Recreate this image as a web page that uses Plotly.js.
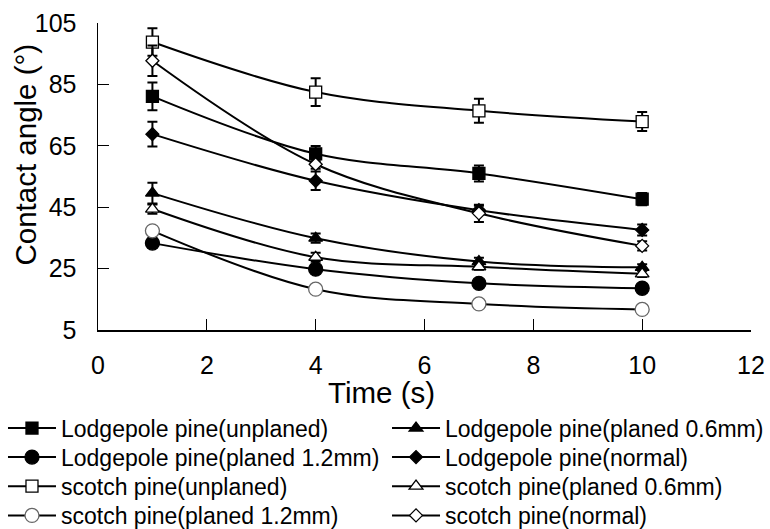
<!DOCTYPE html>
<html>
<head>
<meta charset="utf-8">
<script src="https://cdn.plot.ly/plotly-3.0.1.min.js"></script>
<style>
html,body{margin:0;padding:0;background:#fff;}
#chart{width:770px;height:529px;}
</style>
</head>
<body>
<div id="chart"></div>
<script>
// Data
const time = [1, 4, 7, 10];

const seriesNames = [
  "Lodgepole pine(unplaned)",
  "Lodgepole pine(planed 0.6mm)",
  "Lodgepole pine(planed 1.2mm)",
  "Lodgepole pine(normal)",
  "scotch pine(unplaned)",
  "scotch pine(planed 0.6mm)",
  "scotch pine(planed 1.2mm)",
  "scotch pine(normal)"
];

const lpUnplaned   = [81.1, 62.4, 56.0, 47.6];
const lpPlaned06   = [49.6, 34.9, 27.3, 25.4];
const lpPlaned12   = [33.3, 24.8, 20.2, 18.6];
const lpNormal     = [68.8, 53.6, 44.0, 37.6];
const scUnplaned   = [98.8, 82.5, 76.4, 72.9];
const scPlaned06   = [44.4, 28.7, 25.6, 23.3];
const scPlaned12   = [37.3, 18.3, 13.5, 11.7];
const scNormal     = [92.7, 59.0, 43.0, 32.4];

const lpUnplanedErr = [4.5, 2.5, 2.6, 2.0];
const lpPlaned06Err = [3.4, 1.5, 1.2, 1.0];
const lpPlaned12Err = [1.5, 0.8, 0.8, 0.8];
const lpNormalErr   = [4.0, 3.0, 1.5, 1.8];
const scUnplanedErr = [4.5, 4.5, 3.9, 3.1];
const scPlaned06Err = [1.5, 1.5, 1.0, 1.0];
const scPlaned12Err = [1.2, 1.0, 0.8, 0.8];
const scNormalErr   = [5.0, 1.5, 2.8, 1.5];

const xTicks = [0, 2, 4, 6, 8, 10, 12];
const yTicks = [5, 25, 45, 65, 85, 105];

const xTitle = "Time (s)";
const yTitle = "Contact angle (°)";

const values = [lpUnplaned, lpPlaned06, lpPlaned12, lpNormal, scUnplaned, scPlaned06, scPlaned12, scNormal];
const errors = [lpUnplanedErr, lpPlaned06Err, lpPlaned12Err, lpNormalErr, scUnplanedErr, scPlaned06Err, scPlaned12Err, scNormalErr];

const styles = [
  {symbol: "square", color: "#000", line: "#000", size: 12},
  {symbol: "triangle-up", color: "#000", line: "#000", size: 12},
  {symbol: "circle", color: "#000", line: "#000", size: 14},
  {symbol: "diamond", color: "#000", line: "#000", size: 10},
  {symbol: "square", color: "#fff", line: "#000", size: 12},
  {symbol: "triangle-up", color: "#fff", line: "#000", size: 12},
  {symbol: "circle", color: "#fff", line: "#666", size: 14},
  {symbol: "diamond", color: "#fff", line: "#000", size: 10}
];

// legend id for each series (two columns, four rows)
const legendIds = seriesNames.map((_, i) => i === 0 ? "legend" : "legend" + (i + 1));

const traces = seriesNames.map((name, i) => ({
  type: "scatter",
  mode: "lines+markers",
  name: name,
  legend: legendIds[i],
  x: time,
  y: values[i],
  line: {color: "#000", width: 2, shape: "spline", smoothing: 1},
  marker: {symbol: styles[i].symbol, size: styles[i].size, color: styles[i].color,
           line: {color: styles[i].line, width: 1.3}},
  error_y: {type: "data", array: errors[i], visible: true, color: "#000", thickness: 2, width: 5}
}));

const font = "Liberation Sans, Arial, sans-serif";

const colX = [-0.1455, 0.4426];
const rowY = [-0.2495, -0.344, -0.4388, -0.534];

const layout = {
  width: 770,
  height: 529,
  margin: {l: 98, r: 19, t: 23, b: 199, autoexpand: false},
  paper_bgcolor: "#fff",
  plot_bgcolor: "#fff",
  showlegend: true,
  font: {family: font, color: "#000"},
  xaxis: {
    range: [0, 12],
    tickvals: xTicks,
    ticktext: xTicks.map(String),
    ticks: "inside",
    ticklen: 11,
    tickwidth: 1,
    tickcolor: "#000",
    showline: true,
    linecolor: "#000",
    linewidth: 1.5,
    showgrid: false,
    zeroline: false,
    ticklabelstandoff: 12,
    ticklabeloverflow: "allow",
    tickfont: {family: font, size: 25, color: "#000"}
  },
  yaxis: {
    range: [5, 105],
    tickvals: yTicks,
    ticktext: yTicks.map(String),
    ticks: "inside",
    ticklen: 11,
    tickwidth: 1,
    tickcolor: "#000",
    showline: true,
    linecolor: "#000",
    linewidth: 1.5,
    showgrid: false,
    zeroline: false,
    ticklabelstandoff: 15,
    ticklabeloverflow: "allow",
    tickfont: {family: font, size: 25, color: "#000"}
  },
  annotations: [
    {
      text: yTitle,
      xref: "paper", yref: "paper",
      x: -0.1125, y: 0.570,
      xanchor: "center", yanchor: "middle",
      textangle: -90,
      showarrow: false,
      font: {family: font, size: 29.5, color: "#000"}
    },
    {
      text: xTitle,
      xref: "paper", yref: "paper",
      x: 0.4334, y: -0.202,
      xanchor: "center", yanchor: "middle",
      showarrow: false,
      font: {family: font, size: 29.5, color: "#000"}
    }
  ]
};

legendIds.forEach((id, i) => {
  layout[id] = {
    orientation: "v",
    xanchor: "left",
    yanchor: "top",
    x: colX[i % 2],
    y: rowY[Math.floor(i / 2)],
    itemwidth: 48,
    font: {family: font, size: 23, color: "#000"},
    bgcolor: "rgba(0,0,0,0)"
  };
});

Plotly.newPlot("chart", traces, layout, {displayModeBar: false, staticPlot: true});
</script>
</body>
</html>
